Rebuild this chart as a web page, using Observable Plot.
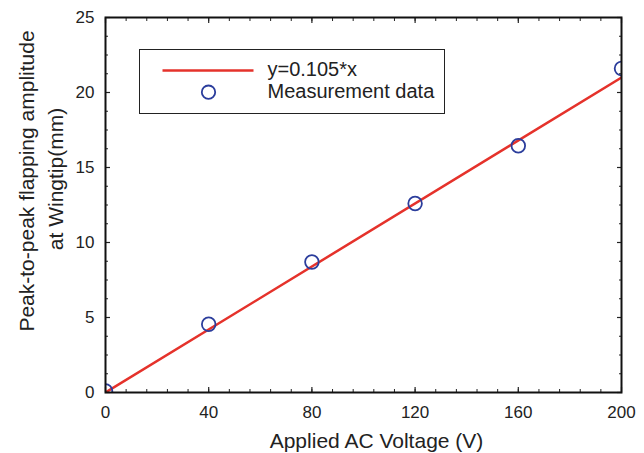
<!DOCTYPE html>
<html>
<head>
<meta charset="utf-8">
<script src="https://cdn.jsdelivr.net/npm/d3@7"></script>
<script src="https://cdn.jsdelivr.net/npm/@observablehq/plot@0.6"></script>
<style>
  body { margin: 0; background: #fff; }
  #wrap { position: relative; width: 644px; height: 453px; font-family: "Liberation Sans", Arial, sans-serif; }
  #legend { position: absolute; left: 139px; top: 49px; width: 306px; height: 65px; border: 1.5px solid #222; background: #fff; box-sizing: border-box; }
  #legend svg { position: absolute; left: 0; top: 0; }
  #legend .lab { position: absolute; left: 127.5px; font-size: 20px; color: #222; line-height: 1; white-space: nowrap; }
</style>
</head>
<body>
<div id="wrap"></div>
<script>
// ---- data ----
const voltage = [0, 40, 80, 120, 160, 200];
const amplitude = [0.1, 4.55, 8.7, 12.6, 16.45, 21.6];
const fitSlope = 0.105;
const fitRange = [0, 200];
const xTicks = [0, 40, 80, 120, 160, 200];
const yTicks = [0, 5, 10, 15, 20, 25];
const xMinor = d3.range(0, 201, 8);
const yMinor = d3.range(0, 25.01, 1.25);
const legendLabels = ["y=0.105*x", "Measurement data"];
const xLabel = "Applied AC Voltage (V)";
const yLabel1 = "Peak-to-peak flapping amplitude";
const yLabel2 = "at Wingtip(mm)";

const points = voltage.map((v, i) => ({x: v, y: amplitude[i]}));
const fit = fitRange.map(x => ({x, y: fitSlope * x}));

const red = "#e5322b";
const blue = "#2b3d9c";
const ink = "#222";

const chart = Plot.plot({
  width: 644,
  height: 453,
  marginLeft: 105,
  marginRight: 23,
  marginTop: 17,
  marginBottom: 61,
  style: {fontFamily: "'Liberation Sans', Arial, sans-serif", fontSize: "17px", color: ink, background: "#fff"},
  x: {domain: [0, 200]},
  y: {domain: [0, 25]},
  marks: [
    Plot.line(fit, {x: "x", y: "y", stroke: red, strokeWidth: 2.5, clip: true}),
    Plot.dot(points, {x: "x", y: "y", r: 6.8, stroke: blue, strokeWidth: 1.8, fill: "none", clip: true}),
    // tick labels
    Plot.axisX(xTicks, {tickSize: 0, tickPadding: 13, fontSize: 17, label: null}),
    Plot.axisY(yTicks, {tickSize: 0, tickPadding: 11, fontSize: 17, label: null}),
    // axis titles
    Plot.text([xLabel], {text: d => d, frameAnchor: "bottom", textAnchor: "middle", lineAnchor: "bottom", dx: 13, dy: 55, fontSize: 21, fill: ink}),
    Plot.text([yLabel1], {text: d => d, frameAnchor: "left", textAnchor: "middle", rotate: -90, lineAnchor: "bottom", dx: -72, dy: -24, fontSize: 21, fill: ink}),
    Plot.text([yLabel2], {text: d => d, frameAnchor: "left", textAnchor: "middle", rotate: -90, lineAnchor: "bottom", dx: -43, dy: -26, fontSize: 21, fill: ink}),
    // inward ticks on all sides
    Plot.axisX(xTicks, {anchor: "bottom", tickSize: -5, text: null, label: null, strokeWidth: 1.2}),
    Plot.axisX(xTicks, {anchor: "top", tickSize: -5, text: null, label: null, strokeWidth: 1.2}),
    Plot.axisX(xMinor, {anchor: "bottom", tickSize: -3, text: null, label: null}),
    Plot.axisX(xMinor, {anchor: "top", tickSize: -3, text: null, label: null}),
    Plot.axisY(yTicks, {anchor: "left", tickSize: -5, text: null, label: null, strokeWidth: 1.2}),
    Plot.axisY(yTicks, {anchor: "right", tickSize: -5, text: null, label: null, strokeWidth: 1.2}),
    Plot.axisY(yMinor, {anchor: "left", tickSize: -3, text: null, label: null}),
    Plot.axisY(yMinor, {anchor: "right", tickSize: -3, text: null, label: null}),
    Plot.frame({stroke: "#111", strokeWidth: 2})
  ]
});

const wrap = document.getElementById("wrap");
wrap.appendChild(chart);

// legend overlay
const legend = document.createElement("div");
legend.id = "legend";
legend.innerHTML = `
  <svg width="306" height="65">
    <line x1="22.5" x2="113.5" y1="20.5" y2="20.5" stroke="${red}" stroke-width="2.5"/>
    <circle cx="68.5" cy="42.2" r="6.7" fill="none" stroke="${blue}" stroke-width="1.8"/>
  </svg>
  <div class="lab" style="top:9px">${legendLabels[0]}</div>
  <div class="lab" style="top:31px">${legendLabels[1]}</div>`;
wrap.appendChild(legend);
</script>
</body>
</html>
